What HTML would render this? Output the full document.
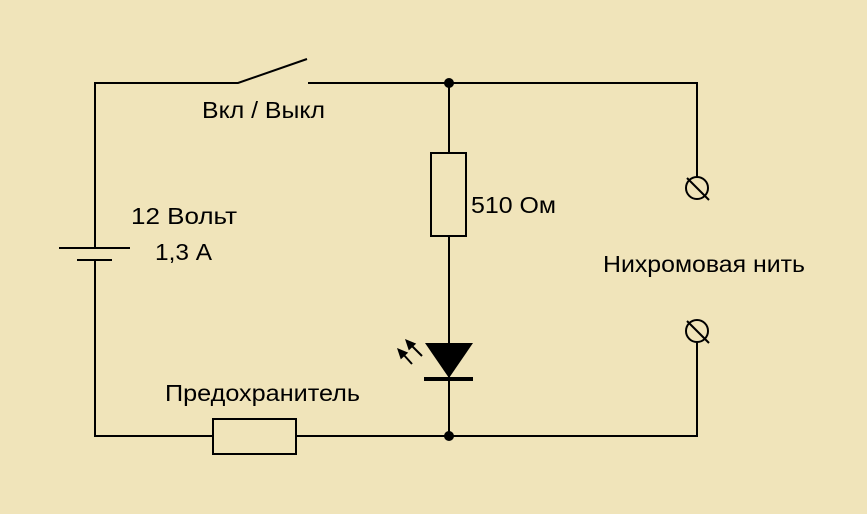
<!DOCTYPE html>
<html><head><meta charset="utf-8"><style>
html,body{margin:0;padding:0;background:#F0E4BA}
svg{display:block}
text{font-family:"Liberation Sans",sans-serif;font-size:23px;fill:#000}
</style></head><body>
<svg width="867" height="514" viewBox="0 0 867 514">
<rect width="867" height="514" fill="#F0E4BA"/>
<g stroke="#000" stroke-width="2" fill="none">
<polyline points="95,248 95,83 238,83 307,59"/>
<polyline points="308,83 697,83 697,177"/>
<polyline points="95,260 95,436 213,436"/>
<polyline points="296,436 697,436 697,342"/>
<line x1="59" y1="248" x2="130" y2="248"/>
<line x1="77" y1="260" x2="112" y2="260"/>
<rect x="213" y="419" width="83" height="35"/>
<line x1="449" y1="83" x2="449" y2="153"/>
<rect x="431" y="153" width="35" height="83"/>
<line x1="449" y1="236" x2="449" y2="436"/>
<circle cx="697" cy="188" r="11"/>
<line x1="687" y1="178" x2="709" y2="200"/>
<circle cx="697" cy="331" r="11"/>
<line x1="687" y1="321" x2="709" y2="343"/>
<line x1="424" y1="379" x2="473" y2="379" stroke-width="4"/>
<line x1="403" y1="354" x2="412" y2="364"/>
<line x1="411" y1="345" x2="422" y2="356"/>
</g>
<polygon points="425,343 473,343 449,378" fill="#000"/>
<polygon points="397,348 400.8,359.4 408.2,352.6" fill="#000"/>
<polygon points="405,339 408.8,350.4 416.2,343.6" fill="#000"/>
<circle cx="449" cy="83" r="5" fill="#000"/>
<circle cx="449" cy="436" r="5" fill="#000"/>
<text x="202" y="118" textLength="123" lengthAdjust="spacingAndGlyphs">Вкл / Выкл</text>
<text x="131" y="224" textLength="106" lengthAdjust="spacingAndGlyphs">12 Вольт</text>
<text x="155" y="260" textLength="57" lengthAdjust="spacingAndGlyphs">1,3 А</text>
<text x="471" y="213" textLength="85" lengthAdjust="spacingAndGlyphs">510 Ом</text>
<text x="603" y="272" textLength="202" lengthAdjust="spacingAndGlyphs">Нихромовая нить</text>
<text x="165" y="401" textLength="195" lengthAdjust="spacingAndGlyphs">Предохранитель</text>
</svg>
</body></html>
